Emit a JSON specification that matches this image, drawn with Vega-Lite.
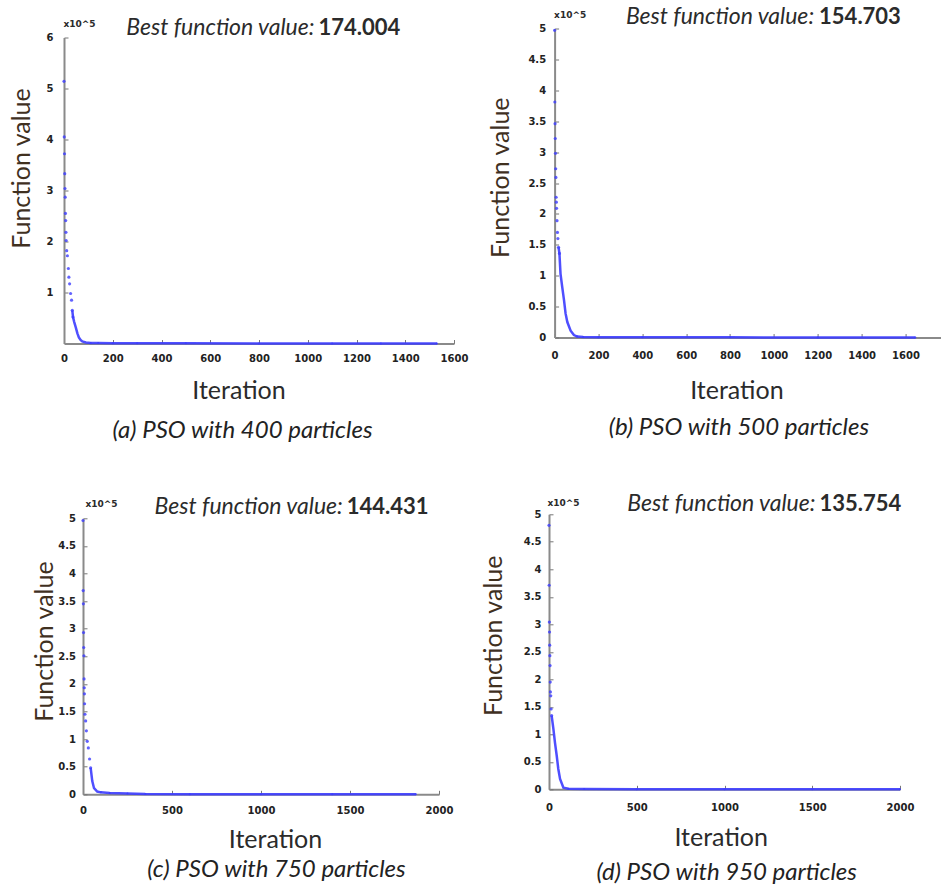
{
  "$schema": "https://vega.github.io/schema/vega-lite/v6.json",
  "background": "white",
  "padding": {"left": 8, "top": 4.5, "right": 0, "bottom": 0},
  "autosize": {"type": "pad"},
  "datasets": {
    "a": [
      {"iteration": 0, "value": 514000}, {"iteration": 1, "value": 405000}, {"iteration": 2, "value": 372000},
      {"iteration": 3, "value": 333000}, {"iteration": 4, "value": 304000}, {"iteration": 5, "value": 287000},
      {"iteration": 6, "value": 255000}, {"iteration": 7, "value": 241000}, {"iteration": 8, "value": 218000},
      {"iteration": 9, "value": 202000}, {"iteration": 11, "value": 182000}, {"iteration": 14, "value": 172000},
      {"iteration": 18, "value": 147000}, {"iteration": 20, "value": 130000}, {"iteration": 23, "value": 117000},
      {"iteration": 27, "value": 98000}, {"iteration": 31, "value": 85000}, {"iteration": 34, "value": 65000},
      {"iteration": 37, "value": 52000}, {"iteration": 42, "value": 42000}, {"iteration": 48, "value": 32000},
      {"iteration": 55, "value": 20000}, {"iteration": 61, "value": 12000}, {"iteration": 68, "value": 7000},
      {"iteration": 75, "value": 4000}, {"iteration": 90, "value": 2000}, {"iteration": 110, "value": 1200},
      {"iteration": 140, "value": 800}, {"iteration": 200, "value": 500}, {"iteration": 300, "value": 320},
      {"iteration": 500, "value": 250}, {"iteration": 800, "value": 210}, {"iteration": 1100, "value": 190},
      {"iteration": 1300, "value": 180}, {"iteration": 1530, "value": 174.004}
    ],
    "b": [
      {"iteration": 0, "value": 497000}, {"iteration": 1, "value": 381000}, {"iteration": 2, "value": 346000},
      {"iteration": 3, "value": 322000}, {"iteration": 4, "value": 298000}, {"iteration": 5, "value": 273000},
      {"iteration": 6, "value": 259000}, {"iteration": 7, "value": 227000}, {"iteration": 8, "value": 219000},
      {"iteration": 9, "value": 209000}, {"iteration": 11, "value": 189000}, {"iteration": 13, "value": 170000},
      {"iteration": 15, "value": 160000}, {"iteration": 18, "value": 146000}, {"iteration": 22, "value": 136000},
      {"iteration": 27, "value": 103000}, {"iteration": 35, "value": 81000}, {"iteration": 43, "value": 60000},
      {"iteration": 50, "value": 39000}, {"iteration": 58, "value": 25000}, {"iteration": 73, "value": 11000},
      {"iteration": 88, "value": 4000}, {"iteration": 103, "value": 1500}, {"iteration": 130, "value": 800},
      {"iteration": 200, "value": 500}, {"iteration": 400, "value": 300}, {"iteration": 800, "value": 220},
      {"iteration": 1200, "value": 170}, {"iteration": 1645, "value": 154.703}
    ],
    "c": [
      {"iteration": 0, "value": 496000}, {"iteration": 1, "value": 369000}, {"iteration": 2, "value": 345000},
      {"iteration": 3, "value": 293000}, {"iteration": 4, "value": 266000}, {"iteration": 5, "value": 251000},
      {"iteration": 6, "value": 209000}, {"iteration": 7, "value": 193000}, {"iteration": 8, "value": 182000},
      {"iteration": 9, "value": 164000}, {"iteration": 11, "value": 145000}, {"iteration": 15, "value": 133000},
      {"iteration": 19, "value": 115000}, {"iteration": 24, "value": 96000}, {"iteration": 30, "value": 84000},
      {"iteration": 37, "value": 64000}, {"iteration": 43, "value": 48000}, {"iteration": 52, "value": 24000},
      {"iteration": 62, "value": 11000}, {"iteration": 80, "value": 5000}, {"iteration": 100, "value": 3500},
      {"iteration": 150, "value": 2500}, {"iteration": 250, "value": 1500}, {"iteration": 350, "value": 600},
      {"iteration": 600, "value": 300}, {"iteration": 1000, "value": 200}, {"iteration": 1400, "value": 160},
      {"iteration": 1870, "value": 144.431}
    ],
    "d": [
      {"iteration": 0, "value": 480000}, {"iteration": 1, "value": 371000}, {"iteration": 2, "value": 304000},
      {"iteration": 3, "value": 286000}, {"iteration": 4, "value": 262000}, {"iteration": 5, "value": 243000},
      {"iteration": 6, "value": 225000}, {"iteration": 7, "value": 195000}, {"iteration": 8, "value": 177000},
      {"iteration": 10, "value": 170000}, {"iteration": 12, "value": 146000}, {"iteration": 15, "value": 134000},
      {"iteration": 25, "value": 110000}, {"iteration": 34, "value": 85000}, {"iteration": 44, "value": 61000},
      {"iteration": 53, "value": 37000}, {"iteration": 63, "value": 19000}, {"iteration": 82, "value": 3000},
      {"iteration": 110, "value": 1000}, {"iteration": 200, "value": 500}, {"iteration": 500, "value": 300},
      {"iteration": 1000, "value": 200}, {"iteration": 1500, "value": 160}, {"iteration": 2000, "value": 135.754}
    ]
  },
  "spacing": 48.8,
  "vconcat": [
    {
      "spacing": 20.6,
      "hconcat": [
        {
          "width": 390, "height": 315,
          "data": {"name": "a"},
          "title": {"text": "(a) PSO with 400 particles", "orient": "bottom", "anchor": "middle", "frame": "group", "baseline": "top", "dx": -16.5, "offset": 15.75},
          "resolve": {"scale": {"x": "independent", "y": "independent"}},
          "layer": [
            {
              "transform": [{"filter": "datum.iteration >= 34"}],
              "mark": {"type": "line", "color": "#3c3cff", "strokeWidth": 2.5, "opacity": 0.9},
              "encoding": {
                "x": {"field": "iteration", "type": "quantitative", "scale": {"domain": [0, 1600], "nice": false},
                  "axis": {"orient": "bottom", "values": [0, 200, 400, 600, 800, 1000, 1200, 1400, 1600], "format": "d", "labelPadding": 14,
                    "title": "Iteration", "titleX": 174.5, "titleY": 55, "titleAlign": "center", "titleBaseline": "alphabetic", "titleAngle": 0}},
                "y": {"field": "value", "type": "quantitative", "scale": {"domain": [0, 600000], "nice": false, "range": [315, 9]},
                  "axis": {"orient": "left", "values": [100000, 200000, 300000, 400000, 500000, 600000], "labelExpr": "datum.value / 100000", "labelPadding": 15,
                    "title": "Function value", "titleX": -35, "titleY": 139.5, "titleAngle": 270, "titleAlign": "center", "titleBaseline": "alphabetic", "titleColor": "#40301f"}}
              }
            },
            {
              "transform": [{"filter": "datum.iteration <= 37"}],
              "mark": {"type": "point", "filled": true, "size": 10, "color": "#3c3cff", "opacity": 0.8},
              "encoding": {
                "x": {"field": "iteration", "type": "quantitative", "scale": {"domain": [0, 1600], "nice": false},
                  "axis": {"orient": "top", "ticks": false, "labels": false, "domain": false,
                    "title": "Best function value:", "titleX": 250, "titleY": 6, "titleAlign": "right", "titleBaseline": "alphabetic", "titleAngle": 0,
                    "titleFontStyle": "italic", "titleFontSize": 23}},
                "y": {"field": "value", "type": "quantitative", "scale": {"domain": [0, 600000], "nice": false, "range": [315, 9]},
                  "axis": {"orient": "left", "ticks": false, "labels": false, "domain": false,
                    "title": "x10^5", "titleX": -1, "titleY": -2, "titleAlign": "left", "titleBaseline": "alphabetic", "titleAngle": 0,
                    "titleFont": "DejaVu Sans", "titleFontSize": 9, "titleFontWeight": "bold"}}
              }
            },
            {
              "transform": [{"filter": "datum.iteration >= 100"}],
              "mark": {"type": "point", "filled": true, "size": 4, "color": "#3c3cff", "opacity": 0.9},
              "encoding": {
                "x": {"field": "iteration", "type": "quantitative", "scale": {"domain": [0, 1600], "nice": false},
                  "axis": {"orient": "top", "ticks": false, "labels": false, "domain": false,
                    "title": "174.004", "titleX": 254, "titleY": 6, "titleAlign": "left", "titleBaseline": "alphabetic", "titleAngle": 0,
                    "titleFontWeight": "bold", "titleFontSize": 22}},
                "y": {"field": "value", "type": "quantitative", "scale": {"domain": [0, 600000], "nice": false, "range": [315, 9]}, "axis": null}
              }
            }
          ]
        },
        {
          "width": 386, "height": 309,
          "data": {"name": "b"},
          "title": {"text": "(b) PSO with 500 particles", "orient": "bottom", "anchor": "middle", "frame": "group", "baseline": "top", "dx": -8.7, "offset": 12.45},
          "resolve": {"scale": {"x": "independent", "y": "independent"}},
          "layer": [
            {
              "transform": [{"filter": "datum.iteration >= 18"}],
              "mark": {"type": "line", "color": "#3c3cff", "strokeWidth": 2.5, "opacity": 0.9},
              "encoding": {
                "x": {"field": "iteration", "type": "quantitative", "scale": {"domain": [0, 1760], "nice": false},
                  "axis": {"orient": "bottom", "values": [0, 200, 400, 600, 800, 1000, 1200, 1400, 1600], "format": "d", "labelPadding": 17,
                    "title": "Iteration", "titleX": 181.8, "titleY": 61.3, "titleAlign": "center", "titleBaseline": "alphabetic", "titleAngle": 0}},
                "y": {"field": "value", "type": "quantitative", "scale": {"domain": [0, 500000], "nice": false},
                  "axis": {"orient": "left", "values": [0, 50000, 100000, 150000, 200000, 250000, 300000, 350000, 400000, 450000, 500000], "labelExpr": "datum.value / 100000", "labelPadding": 13,
                    "title": "Function value", "titleX": -46, "titleY": 148.7, "titleAngle": 270, "titleAlign": "center", "titleBaseline": "alphabetic", "titleColor": "#40301f"}}
              }
            },
            {
              "transform": [{"filter": "datum.iteration <= 22"}],
              "mark": {"type": "point", "filled": true, "size": 10, "color": "#3c3cff", "opacity": 0.8},
              "encoding": {
                "x": {"field": "iteration", "type": "quantitative", "scale": {"domain": [0, 1760], "nice": false},
                  "axis": {"orient": "top", "ticks": false, "labels": false, "domain": false,
                    "title": "Best function value:", "titleX": 259, "titleY": -5.3, "titleAlign": "right", "titleBaseline": "alphabetic", "titleAngle": 0,
                    "titleFontStyle": "italic", "titleFontSize": 23}},
                "y": {"field": "value", "type": "quantitative", "scale": {"domain": [0, 500000], "nice": false},
                  "axis": {"orient": "left", "ticks": false, "labels": false, "domain": false,
                    "title": "x10^5", "titleX": -1, "titleY": -11, "titleAlign": "left", "titleBaseline": "alphabetic", "titleAngle": 0,
                    "titleFont": "DejaVu Sans", "titleFontSize": 9, "titleFontWeight": "bold"}}
              }
            },
            {
              "transform": [{"filter": "datum.iteration >= 100"}],
              "mark": {"type": "point", "filled": true, "size": 4, "color": "#3c3cff", "opacity": 0.9},
              "encoding": {
                "x": {"field": "iteration", "type": "quantitative", "scale": {"domain": [0, 1760], "nice": false},
                  "axis": {"orient": "top", "ticks": false, "labels": false, "domain": false,
                    "title": "154.703", "titleX": 264, "titleY": -5.3, "titleAlign": "left", "titleBaseline": "alphabetic", "titleAngle": 0,
                    "titleFontWeight": "bold", "titleFontSize": 22}},
                "y": {"field": "value", "type": "quantitative", "scale": {"domain": [0, 500000], "nice": false}, "axis": null}
              }
            }
          ]
        }
      ]
    },
    {
      "spacing": 28,
      "hconcat": [
        {
          "width": 375, "height": 280,
          "data": {"name": "c"},
          "title": {"text": "(c) PSO with 750 particles", "orient": "bottom", "anchor": "middle", "frame": "group", "baseline": "top", "dx": 25, "offset": 5.75},
          "resolve": {"scale": {"x": "independent", "y": "independent"}},
          "layer": [
            {
              "transform": [{"filter": "datum.iteration >= 43"}],
              "mark": {"type": "line", "color": "#3c3cff", "strokeWidth": 2.5, "opacity": 0.9},
              "encoding": {
                "x": {"field": "iteration", "type": "quantitative", "scale": {"domain": [0, 2000], "nice": false, "range": [19, 375]},
                  "axis": {"orient": "bottom", "values": [0, 500, 1000, 1500, 2000], "format": "d", "labelPadding": 15,
                    "title": "Iteration", "titleX": 211, "titleY": 52.7, "titleAlign": "center", "titleBaseline": "alphabetic", "titleAngle": 0}},
                "y": {"field": "value", "type": "quantitative", "scale": {"domain": [0, 500000], "nice": false, "range": [280, 4]},
                  "axis": {"orient": "left", "offset": -19, "values": [0, 50000, 100000, 150000, 200000, 250000, 300000, 350000, 400000, 450000, 500000], "labelExpr": "datum.value / 100000", "labelPadding": 11.5,
                    "title": "Function value", "titleX": -30.7, "titleY": 126.8, "titleAngle": 270, "titleAlign": "center", "titleBaseline": "alphabetic", "titleColor": "#40301f"}}
              }
            },
            {
              "transform": [{"filter": "datum.iteration <= 43"}],
              "mark": {"type": "point", "filled": true, "size": 10, "color": "#3c3cff", "opacity": 0.8},
              "encoding": {
                "x": {"field": "iteration", "type": "quantitative", "scale": {"domain": [0, 2000], "nice": false, "range": [19, 375]},
                  "axis": {"orient": "top", "ticks": false, "labels": false, "domain": false,
                    "title": "Best function value:", "titleX": 278.3, "titleY": -0.7, "titleAlign": "right", "titleBaseline": "alphabetic", "titleAngle": 0,
                    "titleFontStyle": "italic", "titleFontSize": 23}},
                "y": {"field": "value", "type": "quantitative", "scale": {"domain": [0, 500000], "nice": false, "range": [280, 4]},
                  "axis": {"orient": "left", "ticks": false, "labels": false, "domain": false,
                    "title": "x10^5", "titleX": 21, "titleY": -8, "titleAlign": "left", "titleBaseline": "alphabetic", "titleAngle": 0,
                    "titleFont": "DejaVu Sans", "titleFontSize": 9, "titleFontWeight": "bold"}}
              }
            },
            {
              "transform": [{"filter": "datum.iteration >= 100"}],
              "mark": {"type": "point", "filled": true, "size": 4, "color": "#3c3cff", "opacity": 0.9},
              "encoding": {
                "x": {"field": "iteration", "type": "quantitative", "scale": {"domain": [0, 2000], "nice": false, "range": [19, 375]},
                  "axis": {"orient": "top", "ticks": false, "labels": false, "domain": false,
                    "title": "144.431", "titleX": 282.3, "titleY": -0.7, "titleAlign": "left", "titleBaseline": "alphabetic", "titleAngle": 0,
                    "titleFontWeight": "bold", "titleFontSize": 22}},
                "y": {"field": "value", "type": "quantitative", "scale": {"domain": [0, 500000], "nice": false, "range": [280, 4]}, "axis": null}
              }
            }
          ]
        },
        {
          "width": 351, "height": 275,
          "data": {"name": "d"},
          "title": {"text": "(d) PSO with 950 particles", "orient": "bottom", "anchor": "middle", "frame": "group", "baseline": "top", "dx": 2.2, "offset": 10.75},
          "resolve": {"scale": {"x": "independent", "y": "independent"}},
          "layer": [
            {
              "transform": [{"filter": "datum.iteration >= 15"}],
              "mark": {"type": "line", "color": "#3c3cff", "strokeWidth": 2.5, "opacity": 0.9},
              "encoding": {
                "x": {"field": "iteration", "type": "quantitative", "scale": {"domain": [0, 2000], "nice": false},
                  "axis": {"orient": "bottom", "values": [0, 500, 1000, 1500, 2000], "format": "d", "labelPadding": 17,
                    "title": "Iteration", "titleX": 171.7, "titleY": 56, "titleAlign": "center", "titleBaseline": "alphabetic", "titleAngle": 0}},
                "y": {"field": "value", "type": "quantitative", "scale": {"domain": [0, 500000], "nice": false},
                  "axis": {"orient": "left", "values": [0, 50000, 100000, 150000, 200000, 250000, 300000, 350000, 400000, 450000, 500000], "labelExpr": "datum.value / 100000", "labelPadding": 12,
                    "title": "Function value", "titleX": -47.3, "titleY": 121, "titleAngle": 270, "titleAlign": "center", "titleBaseline": "alphabetic", "titleColor": "#40301f"}}
              }
            },
            {
              "transform": [{"filter": "datum.iteration <= 15"}],
              "mark": {"type": "point", "filled": true, "size": 10, "color": "#3c3cff", "opacity": 0.8},
              "encoding": {
                "x": {"field": "iteration", "type": "quantitative", "scale": {"domain": [0, 2000], "nice": false},
                  "axis": {"orient": "top", "ticks": false, "labels": false, "domain": false,
                    "title": "Best function value:", "titleX": 266, "titleY": -4, "titleAlign": "right", "titleBaseline": "alphabetic", "titleAngle": 0,
                    "titleFontStyle": "italic", "titleFontSize": 23}},
                "y": {"field": "value", "type": "quantitative", "scale": {"domain": [0, 500000], "nice": false},
                  "axis": {"orient": "left", "ticks": false, "labels": false, "domain": false,
                    "title": "x10^5", "titleX": -2, "titleY": -9, "titleAlign": "left", "titleBaseline": "alphabetic", "titleAngle": 0,
                    "titleFont": "DejaVu Sans", "titleFontSize": 9, "titleFontWeight": "bold"}}
              }
            },
            {
              "transform": [{"filter": "datum.iteration >= 100"}],
              "mark": {"type": "point", "filled": true, "size": 4, "color": "#3c3cff", "opacity": 0.9},
              "encoding": {
                "x": {"field": "iteration", "type": "quantitative", "scale": {"domain": [0, 2000], "nice": false},
                  "axis": {"orient": "top", "ticks": false, "labels": false, "domain": false,
                    "title": "135.754", "titleX": 270, "titleY": -4, "titleAlign": "left", "titleBaseline": "alphabetic", "titleAngle": 0,
                    "titleFontWeight": "bold", "titleFontSize": 22}},
                "y": {"field": "value", "type": "quantitative", "scale": {"domain": [0, 500000], "nice": false}, "axis": null}
              }
            }
          ]
        }
      ]
    }
  ],
  "config": {
    "view": {"stroke": null},
    "font": "Lato",
    "axis": {
      "grid": false,
      "domainColor": "#8a8a8a", "domainWidth": 2,
      "tickColor": "#777777", "tickWidth": 1, "tickSize": -4,
      "labelFont": "DejaVu Sans", "labelFontSize": 10, "labelFontWeight": "bold", "labelColor": "#222222",
      "labelFlush": false, "labelOverlap": false,
      "titleFont": "Lato", "titleFontSize": 25, "titleFontWeight": "normal", "titleColor": "#2b2b2b", "titlePadding": 0
    },
    "title": {"font": "Lato", "fontSize": 24, "fontStyle": "italic", "fontWeight": "normal", "color": "#222222"}
  }
}
